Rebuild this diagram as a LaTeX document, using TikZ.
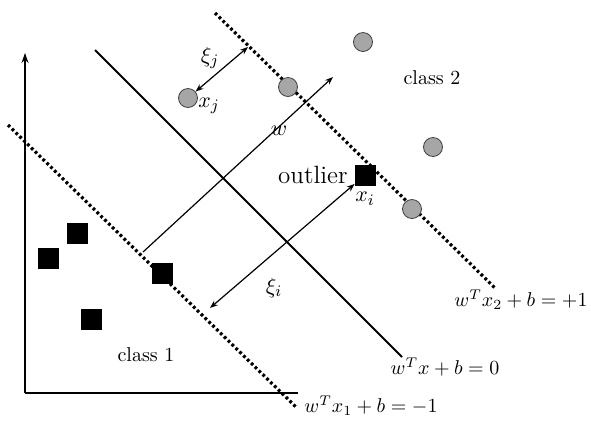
\documentclass[tikz,border=0pt]{standalone}
\usetikzlibrary{arrows.meta,positioning}
\tikzset{
  margin/.style={line width=1.6pt, dash pattern=on 1.4pt off 1.3pt},
  sqpt/.style={draw=black, fill=black, minimum size=10pt, inner sep=0pt},
  cpt/.style={circle, draw=gray!50!black, fill=gray!70, minimum size=9.5pt, inner sep=0pt},
  vec/.style={-{Stealth[length=4pt,width=3pt]}, line width=0.6pt},
  dvec/.style={{Stealth[length=4pt,width=3pt]}-{Stealth[length=4pt,width=3pt]}, line width=0.6pt},
  lbl/.style={font=\fontsize{11}{13}\selectfont},
  eqlbl/.style={font=\fontsize{10.2}{12}\selectfont},
}
\begin{document}
\begin{tikzpicture}[x=0.5pt, y=-0.5pt]
        \useasboundingbox (0,0) rectangle (591,420);
        % axes
        \draw[line width=1pt, -{Stealth[length=5pt,width=3.5pt]}] (25,393) -- (25,53);
        \draw[line width=1pt] (25,393) -- (298,393);
        % hyperplane and margins
        \draw[line width=0.9pt] (95,50) -- (402,357);
        \draw[margin] (8,125) -- (297,408);
        \draw[margin] (215,13) -- (495,288);
        % points
        \foreach \x/\y/\n in {363/42/ca, 288/87/cb, 433/147/cc, 412/209/cd, 188/98/xj}
            \node[cpt] (\n) at (\x,\y) {};
        \foreach \x/\y/\n in {77/233/sa, 48/258/sb, 91/319/sc, 162/273/sd, 365/175/xi}
            \node[sqpt] (\n) at (\x,\y) {};
        % normal vector and slacks
        \coordinate (wtail) at (143,252);
        \coordinate (whead) at (333,77);
        \coordinate (xjm) at (248,47);
        \coordinate (xim) at (210,308);
        \draw[vec] (wtail) -- (whead);
        \draw[dvec] (xj) -- (xjm);
        \draw[dvec] (xi) -- (xim);
        % labels
        \node[lbl] at (279,131) {$w$};
        \node[lbl] at (210,58) {$\xi_j$};
        \node[lbl] at (209,106) {$x_j$};
        \node[lbl] at (274,288) {$\xi_i$};
        \node[lbl, below=0pt of xi] {$x_i$};
        \node[font=\fontsize{12.5}{14}\selectfont, left=0pt of xi] {outlier};
        \node at (432,78) {class 2};
        \node at (146,355) {class 1};
        \node[eqlbl] at (445,367) {$w^T x + b = 0$};
        \node[eqlbl] at (521,300) {$w^T x_2 + b = +1$};
        \node[eqlbl] at (371,406) {$w^T x_1 + b = -1$};
\end{tikzpicture}
\end{document}
